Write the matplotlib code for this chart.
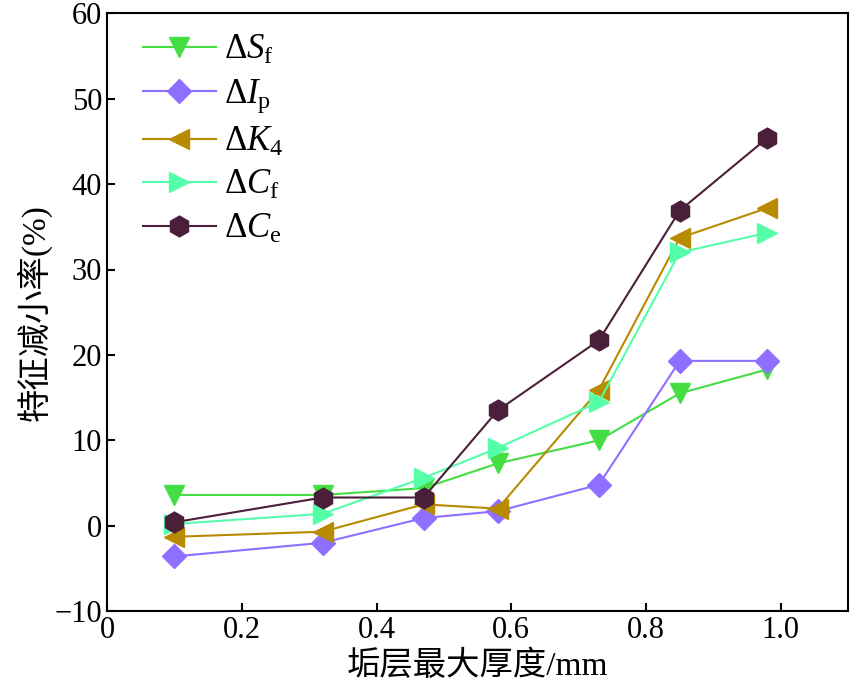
import matplotlib
matplotlib.use("Agg")
import matplotlib.pyplot as plt

x = [0.10, 0.32, 0.47, 0.58, 0.73, 0.85, 0.98]
dSf = [3.6, 3.6, 4.4, 7.3, 10.0, 15.5, 18.3]
dIp = [-3.6, -2.0, 0.9, 1.7, 4.8, 19.3, 19.3]
dK4 = [-1.3, -0.7, 2.5, 2.0, 15.9, 33.7, 37.2]
dCf = [0.2, 1.4, 5.6, 9.1, 14.5, 32.0, 34.3]
dCe = [0.4, 3.3, 3.3, 13.5, 21.7, 36.9, 45.4]

labels = [r'$\Delta S_\mathrm{f}$', r'$\Delta I_\mathrm{p}$', r'$\Delta K_4$',
          r'$\Delta C_\mathrm{f}$', r'$\Delta C_\mathrm{e}$']
xticks = [0, 0.2, 0.4, 0.6, 0.8, 1.0]
xticklabels = ['0', '0.2', '0.4', '0.6', '0.8', '1.0']
yticks = [-10, 0, 10, 20, 30, 40, 50, 60]

plt.rcParams['font.family'] = ['Liberation Serif', 'Noto Sans CJK SC', 'DejaVu Sans']
plt.rcParams['mathtext.fontset'] = 'custom'
plt.rcParams['mathtext.rm'] = 'Liberation Serif'
plt.rcParams['mathtext.it'] = 'Liberation Serif:italic'

fig = plt.figure(figsize=(8.51, 7.0), dpi=100)
ax = fig.add_axes([0.1257, 0.127, 0.871, 0.854])

series = [dSf, dIp, dK4, dCf, dCe]
colors = ['#44DD44', '#8F6FFF', '#B88A00', '#55FFAA', '#4A1F3A']
markers = ['v', 'D', '<', '>', 'h']
sizes = [15, 12, 15, 15, 15]
for ys, c, m, s, lab in zip(series, colors, markers, sizes, labels):
    ax.plot(x, ys, color=c, marker=m, markersize=s, linewidth=1.5, label=lab)

ax.set_xlim(0, 1.1)
ax.set_ylim(-10, 60)
ax.set_xticks(xticks)
ax.set_xticklabels(xticklabels)
ax.set_yticks(yticks)
ax.tick_params(direction='in', length=6, width=1.5, labelsize=22, top=False, right=False)
for sp in ax.spines.values():
    sp.set_linewidth(1.5)

ax.set_xlabel('垢层最大厚度/mm', fontsize=24, family=['Liberation Serif', 'Noto Sans CJK SC'], labelpad=4)
ax.set_ylabel('特征减小率(%)', fontsize=24, family=['Liberation Serif', 'Noto Sans CJK SC'], labelpad=2)

leg = ax.legend(loc='upper left', frameon=False, fontsize=25, handlelength=2.1,
                labelspacing=0.3, borderaxespad=0.2, handletextpad=0.25,
                bbox_to_anchor=(0.02, 1.0))

fig.savefig('out.png', dpi=100)
